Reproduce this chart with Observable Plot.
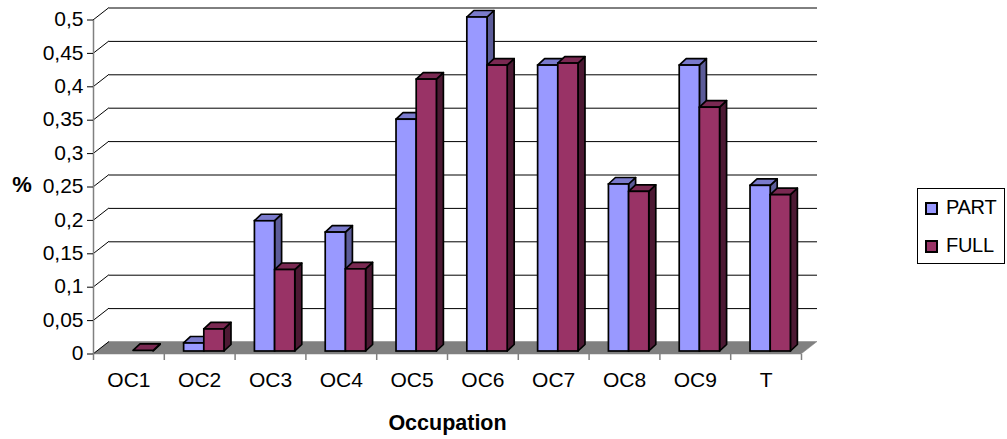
<!DOCTYPE html>
<html>
<head>
<meta charset="utf-8">
<script src="https://cdn.jsdelivr.net/npm/d3@7"></script>
<script src="https://cdn.jsdelivr.net/npm/@observablehq/plot@0.6"></script>
<style>
html,body{margin:0;padding:0;background:#fff;width:1007px;height:439px;overflow:hidden;font-family:"Liberation Sans",Arial,sans-serif}
#chart{position:relative;width:1007px;height:439px}
#chart svg{position:absolute;left:0;top:0;overflow:visible;background:transparent}
#legend{position:absolute;left:917px;top:188px;width:88px;height:76px;box-sizing:border-box;border:1px solid #000;background:#fff;font-size:20px;letter-spacing:-0.3px;color:#000}
#legend span{position:absolute;left:28px;white-space:nowrap;line-height:20px;height:20px}
#legend i{position:absolute;left:7px;box-sizing:border-box;width:13px;height:13px;border:2px solid #000}
</style>
</head>
<body>
<div id="chart"></div>
<script>
const categories = ["OC1","OC2","OC3","OC4","OC5","OC6","OC7","OC8","OC9","T"];
const partValues = [0,0.012,0.195,0.178,0.347,0.5,0.428,0.25,0.428,0.248];
const fullValues = [0.001,0.033,0.122,0.123,0.407,0.428,0.431,0.239,0.365,0.234];
const yTicks = [0,0.05,0.1,0.15,0.2,0.25,0.3,0.35,0.4,0.45,0.5];
const xTicks = [0,1,2,3,4,5,6,7,8,9,10];
const series = [
  {name:"PART", values:partValues, front:"#9999FF", top:"#7A7ACC", side:"#5C5C99", start:0.28},
  {name:"FULL", values:fullValues, front:"#993366", top:"#7A2952", side:"#4C1933", start:0.565}
];
const barSpan = 0.285;
const wallDX = 16, wallDY = -12.5, barDX = 7, barDY = -6.5, barRaise = -3;

// Draws parallelograms from scaled rect channels: pts(x1,x2,y1,y2) -> polygon points
function polyMark(data, channels, pts, style){
  return Plot.rect(data, {...channels, render(index, scales, values){
    const g = d3.create("svg:g");
    const {x1,x2,y1,y2} = values;
    for (const i of index) {
      g.append("path")
        .attr("d", pts(x1[i],x2[i],y1[i],y2[i]))
        .attr("fill", style.fill(data[i]))
        .attr("stroke", style.stroke||"#000")
        .attr("stroke-width", style.strokeWidth||1.7)
        .attr("stroke-linejoin","round");
    }
    return g.node();
  }});
}
const P = a => "M"+a.map(p=>p.join(",")).join("L")+"Z";

const marks = [];
// floor
marks.push(polyMark([{}], {x1:()=>0,x2:()=>10,y1:()=>0,y2:()=>0},
  (x1,x2,y1,y2)=>P([[x1,y1],[x1+wallDX,y1+wallDY],[x2+wallDX,y1+wallDY],[x2,y1]]),
  {fill:()=>"#808080",stroke:"#808080",strokeWidth:0.5}));
// back wall grid
marks.push(Plot.ruleY(yTicks.slice(1),{x1:0,x2:10,dx:wallDX,dy:wallDY,stroke:"#000",strokeWidth:1,strokeOpacity:1}));
// side-wall diagonals
marks.push(polyMark(yTicks, {x1:()=>0,x2:()=>0,y1:d=>d,y2:d=>d},
  (x1,x2,y1,y2)=>`M${x1},${y1}L${x1+wallDX},${y1+wallDY}`,
  {fill:()=>"none",strokeWidth:1}));
// y axis line
marks.push(Plot.ruleX([0],{y1:0,y2:0.5,stroke:"#808080",strokeWidth:1.5}));
// y ticks and labels
marks.push(polyMark(yTicks, {x1:()=>0,x2:()=>0,y1:d=>d,y2:d=>d},
  (x1,x2,y1,y2)=>`M${x1-6},${y1}L${x1},${y1}`,
  {fill:()=>"none",strokeWidth:1}));
marks.push(Plot.axisY({ticks:yTicks,tickSize:0,tickPadding:10,dy:-1,
  tickFormat:d=>String(d).replace(".",","),fontSize:21,fill:"#000",fontFamily:"Liberation Sans",label:null}));
// x ticks and labels
marks.push(Plot.axisX({ticks:xTicks,tickSize:6,stroke:"#808080",strokeWidth:1.5,tickFormat:()=>"",label:null,anchor:"bottom"}));
marks.push(Plot.axisX({ticks:xTicks.slice(0,10).map(d=>d+0.5),tickSize:0,tickPadding:18,anchor:"bottom",
  tickFormat:d=>categories[d-0.5],fontSize:21,letterSpacing:-1,fill:"#000",fontFamily:"Liberation Sans",label:null}));
// titles
marks.push(Plot.text(["Occupation"],{x:()=>5,y:()=>0,dy:69,text:d=>d,fontSize:21.5,fontWeight:"bold",fontFamily:"Liberation Sans",fill:"#000"}));
marks.push(Plot.text(["%"],{x:()=>0,y:()=>0.25,dx:-71.5,dy:-2.5,text:d=>d,fontSize:22,fontWeight:"bold",fontFamily:"Liberation Sans",fill:"#000"}));
// bars: for each series, top & side, then front
for (const s of series) {
  const rows = categories.map((c,i)=>({i,c,v:s.values[i]})).filter(d=>d.v>0);
  const ch = {x1:d=>d.i+s.start,x2:d=>d.i+s.start+barSpan,y1:()=>0,y2:d=>d.v};
  marks.push(polyMark(rows,ch,(x1,x2,y1,y2)=>P([[x2,y1+barRaise],[x2+barDX,y1+barRaise+barDY],[x2+barDX,y2+barRaise+barDY],[x2,y2+barRaise]]),{fill:()=>s.side}));
  marks.push(polyMark(rows,ch,(x1,x2,y1,y2)=>P([[x1,y2+barRaise],[x1+barDX,y2+barRaise+barDY],[x2+barDX,y2+barRaise+barDY],[x2,y2+barRaise]]),{fill:()=>s.top}));
  marks.push(Plot.rect(rows.filter(d=>d.v>=0.005),{...ch,dy:barRaise,fill:s.front,stroke:"#000",strokeWidth:1.7}));
}

const chart = Plot.plot({
  width:1007,height:439,
  marginLeft:93,marginRight:206,marginTop:20,marginBottom:85,
  style:{background:"transparent",overflow:"visible"},
  x:{type:"linear",domain:[0,10],axis:null},
  y:{type:"linear",domain:[0,0.5],axis:null},
  marks
});
const root=document.getElementById("chart");
root.appendChild(chart);
const lg=document.createElement("div");lg.id="legend";
series.forEach((s,k)=>{
  const sw=document.createElement("i");sw.style.background=s.front;sw.style.top=(k===0?13:51)+"px";
  const t=document.createElement("span");t.textContent=s.name;t.style.top=(k===0?8:46)+"px";
  lg.appendChild(sw);lg.appendChild(t);
});
root.appendChild(lg);
</script>
</body>
</html>
